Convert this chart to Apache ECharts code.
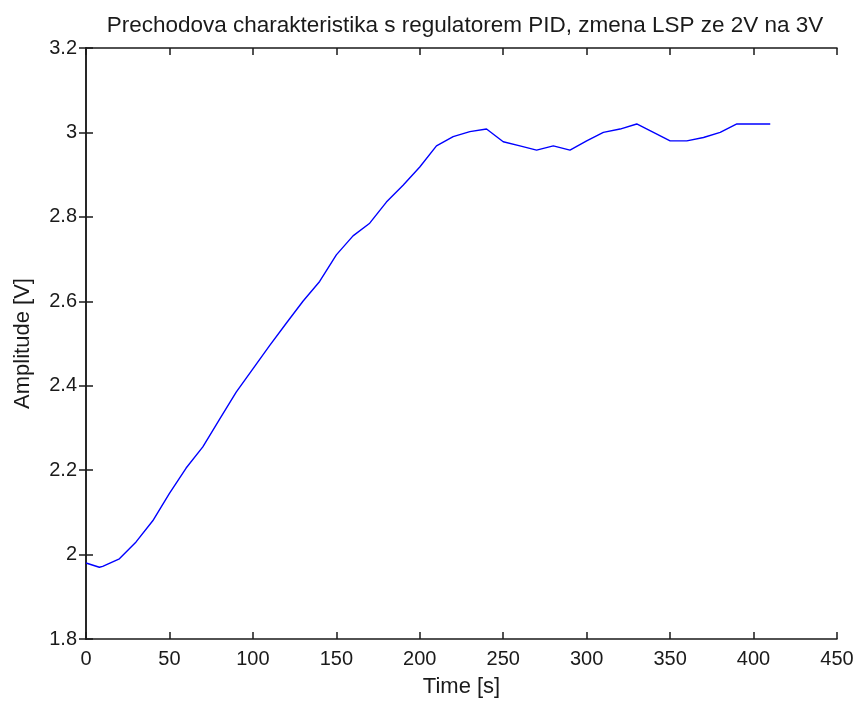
<!DOCTYPE html>
<html>
<head>
<meta charset="utf-8">
<script src="https://cdn.jsdelivr.net/npm/echarts@6/dist/echarts.min.js"></script>
<style>
  html, body { margin: 0; padding: 0; background: #fff; }
  #chart { width: 857px; height: 707px; }
</style>
</head>
<body>
<div id="chart"></div>
<script>
// Step response of the PID-controlled loop, setpoint change 2 V -> 3 V
const timeS = [0, 8, 10, 20, 30, 40, 50, 60, 70, 80, 90, 100, 110, 120, 130, 140, 150, 160, 170, 180, 190, 200,
  210, 220, 230, 240, 250, 260, 270, 280, 290, 300, 310, 320, 330, 340, 350, 360, 370, 380, 390, 400, 410];
const amplitudeV = [1.98, 1.97, 1.972, 1.99, 2.03, 2.08, 2.145, 2.205, 2.255, 2.32, 2.385, 2.44, 2.495, 2.548,
  2.60, 2.647, 2.71, 2.755, 2.785, 2.835, 2.875, 2.918, 2.968, 2.99, 3.002, 3.008, 2.978, 2.968, 2.958, 2.968,
  2.958, 2.98, 3.0, 3.008, 3.02, 3.0, 2.98, 2.98, 2.988, 3.0, 3.02, 3.02, 3.02];
const xTicks = [0, 450, 50];      // min, max, step
const yTicks = [1.8, 3.2, 0.2];   // min, max, step

const font = 'Liberation Sans, Arial, sans-serif';
const axisLine = { show: true, lineStyle: { color: '#1a1a1a', width: 1.5 } };
const tick = { show: true, inside: true, length: 7, lineStyle: { color: '#1a1a1a', width: 1.5 } };
const label = { color: '#1a1a1a', fontSize: 20, fontFamily: font };

const chart = echarts.init(document.getElementById('chart'), null, { renderer: 'canvas' });
chart.setOption({
  animation: false,
  backgroundColor: '#fff',
  title: {
    text: 'Prechodova charakteristika s regulatorem PID, zmena LSP ze 2V na 3V',
    left: 460, top: 9, textAlign: 'center',
    textStyle: { color: '#1a1a1a', fontSize: 22.5, fontWeight: 'normal', fontFamily: font }
  },
  grid: { left: 86, right: 20, top: 48, bottom: 68, containLabel: false },
  xAxis: [
    {
      type: 'value', position: 'bottom', min: xTicks[0], max: xTicks[1], interval: xTicks[2],
      name: 'Time [s]', nameLocation: 'middle', nameGap: 37,
      nameTextStyle: { color: '#1a1a1a', fontSize: 22, fontFamily: font },
      axisLine, axisTick: tick, splitLine: { show: false },
      axisLabel: { ...label, margin: 10 }
    },
    {
      type: 'value', position: 'top', min: xTicks[0], max: xTicks[1], interval: xTicks[2],
      axisLine, axisTick: tick, splitLine: { show: false }, axisLabel: { show: false }
    }
  ],
  yAxis: [
    {
      type: 'value', position: 'left', min: yTicks[0], max: yTicks[1], interval: yTicks[2],
      name: 'Amplitude [V]', nameLocation: 'middle', nameGap: 52, nameRotate: 90,
      nameTextStyle: { color: '#1a1a1a', fontSize: 22, fontFamily: font },
      axisLine, axisTick: tick, splitLine: { show: false },
      axisLabel: { ...label, margin: 9, formatter: v => String(Math.round(v * 10) / 10) }
    },
    {
      type: 'value', position: 'right', min: yTicks[0], max: yTicks[1], interval: yTicks[2],
      axisLine, axisTick: tick, splitLine: { show: false }, axisLabel: { show: false }
    }
  ],
  series: [{
    type: 'line',
    data: timeS.map((t, i) => [t, amplitudeV[i]]),
    showSymbol: false,
    lineStyle: { color: '#0000ff', width: 1.4 },
    itemStyle: { color: '#0000ff' }
  }]
});
</script>
</body>
</html>
